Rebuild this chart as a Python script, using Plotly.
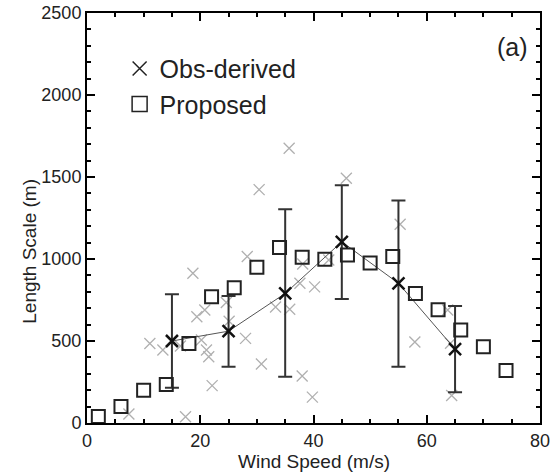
import plotly.graph_objects as go

# 관측 산포 (회색 x)
scatter_speed = [7.4, 11.1, 13.4, 16.5, 17.4, 18.7, 19.4, 20.2, 20.8, 21.1, 21.5, 22.1,
                 24.6, 25.1, 28.0, 28.3, 30.4, 30.8, 33.3, 35.7, 35.8, 37.6, 38.0, 38.1,
                 39.8, 40.2, 42.7, 45.8, 55.3, 57.9, 63.7, 64.2, 64.4]
scatter_length = [55, 485, 445, 470, 38, 913, 648, 506, 689, 445, 404, 228,
                  735, 620, 516, 1015, 1423, 360, 707, 1675, 694, 852, 287, 970,
                  158, 830, 994, 1492, 1212, 494, 689, 486, 168]

# Obs-derived 평균 + 오차막대
obs_speed = [15, 25, 35, 45, 55, 65]
obs_length = [500, 560, 790, 1105, 852, 450]
obs_upper = [785, 775, 1303, 1450, 1356, 713]
obs_lower = [215, 343, 282, 756, 343, 187]

# Proposed
prop_speed = [2, 6, 10, 14, 18, 22, 26, 30, 34, 38, 42, 46, 50, 54, 58, 62, 66, 70, 74]
prop_length = [40, 100, 200, 235, 485, 770, 825, 950, 1070, 1010, 998, 1025, 975,
               1015, 790, 690, 567, 465, 320]

FONT = "Liberation Sans, Arial, sans-serif"
TEXT_COLOR = "#222222"

fig = go.Figure()

fig.add_trace(
    go.Scatter(
        x=scatter_speed,
        y=scatter_length,
        mode="markers",
        marker=dict(symbol="x-thin", size=11, line=dict(color="#b0b0b0", width=1.3)),
        showlegend=False,
        hoverinfo="skip"
    )
)

# 평균선 + 오차막대
fig.add_trace(
    go.Scatter(
        x=obs_speed,
        y=obs_length,
        mode="lines",
        line=dict(color="#555555", width=1),
        error_y=dict(
            type="data",
            symmetric=False,
            array=[u - m for u, m in zip(obs_upper, obs_length)],
            arrayminus=[m - l for m, l in zip(obs_length, obs_lower)],
            color="#333333",
            thickness=2,
            width=7
        ),
        showlegend=False
    )
)

fig.add_trace(
    go.Scatter(
        x=prop_speed,
        y=prop_length,
        mode="markers",
        name="Proposed",
        marker=dict(symbol="square-open", size=13, color=TEXT_COLOR,
                    line=dict(color=TEXT_COLOR, width=2)),
        showlegend=False
    )
)

fig.add_trace(
    go.Scatter(
        x=obs_speed,
        y=obs_length,
        mode="markers",
        name="Obs-derived",
        marker=dict(symbol="x-thin", size=12, line=dict(color="#111111", width=2.5)),
        showlegend=False
    )
)

# 범례 전용
fig.add_trace(
    go.Scatter(
        x=[None], y=[None], mode="markers", name="Obs-derived",
        marker=dict(symbol="x-thin", size=14, line=dict(color=TEXT_COLOR, width=1.5))
    )
)
fig.add_trace(
    go.Scatter(
        x=[None], y=[None], mode="markers", name="Proposed",
        marker=dict(symbol="square-open", size=15, color=TEXT_COLOR,
                    line=dict(color=TEXT_COLOR, width=1.5))
    )
)

fig.add_annotation(
    text="(a)", x=0.978, y=0.918, xref="paper", yref="paper",
    xanchor="right", yanchor="middle", showarrow=False,
    font=dict(size=25, color=TEXT_COLOR, family=FONT)
)

# 축 제목 (위치 고정용 annotation)
fig.add_annotation(
    text="Wind Speed (m/s)", x=0.5, y=-0.094, xref="paper", yref="paper",
    xanchor="center", yanchor="middle", showarrow=False,
    font=dict(size=19, color=TEXT_COLOR, family=FONT)
)
fig.add_annotation(
    text="Length Scale (m)", x=-0.126, y=0.42, xref="paper", yref="paper",
    xanchor="center", yanchor="middle", showarrow=False, textangle=-90,
    font=dict(size=19, color=TEXT_COLOR, family=FONT)
)

axis_common = dict(
    showline=True,
    linecolor="black",
    linewidth=2,
    mirror="ticks",
    ticks="inside",
    ticklen=8,
    tickwidth=2,
    tickcolor="black",
    showgrid=False,
    zeroline=False,
    automargin=False,
    tickfont=dict(size=18, color=TEXT_COLOR, family=FONT),
)

fig.update_xaxes(
    range=[0, 80],
    dtick=20,
    minor=dict(ticks="inside", dtick=5, ticklen=4, tickwidth=2, tickcolor="black"),
    **axis_common
)
fig.update_yaxes(
    range=[0, 2500],
    dtick=500,
    minor=dict(ticks="inside", dtick=100, ticklen=4, tickwidth=2, tickcolor="black"),
    **axis_common
)

fig.update_layout(
    width=552,
    height=476,
    margin=dict(l=87, r=12, t=13, b=53),
    plot_bgcolor="white",
    paper_bgcolor="white",
    font=dict(family=FONT, color=TEXT_COLOR),
    legend=dict(
        x=0.072, y=0.92, xanchor="left", yanchor="top",
        bgcolor="rgba(0,0,0,0)",
        font=dict(size=25, color=TEXT_COLOR, family=FONT),
        itemwidth=30,
        tracegroupgap=0
    )
)

fig.write_html(
    "out.html",
    config={"displayModeBar": False},
    post_script="document.body.style.margin='0';document.body.style.overflow='hidden';"
)
